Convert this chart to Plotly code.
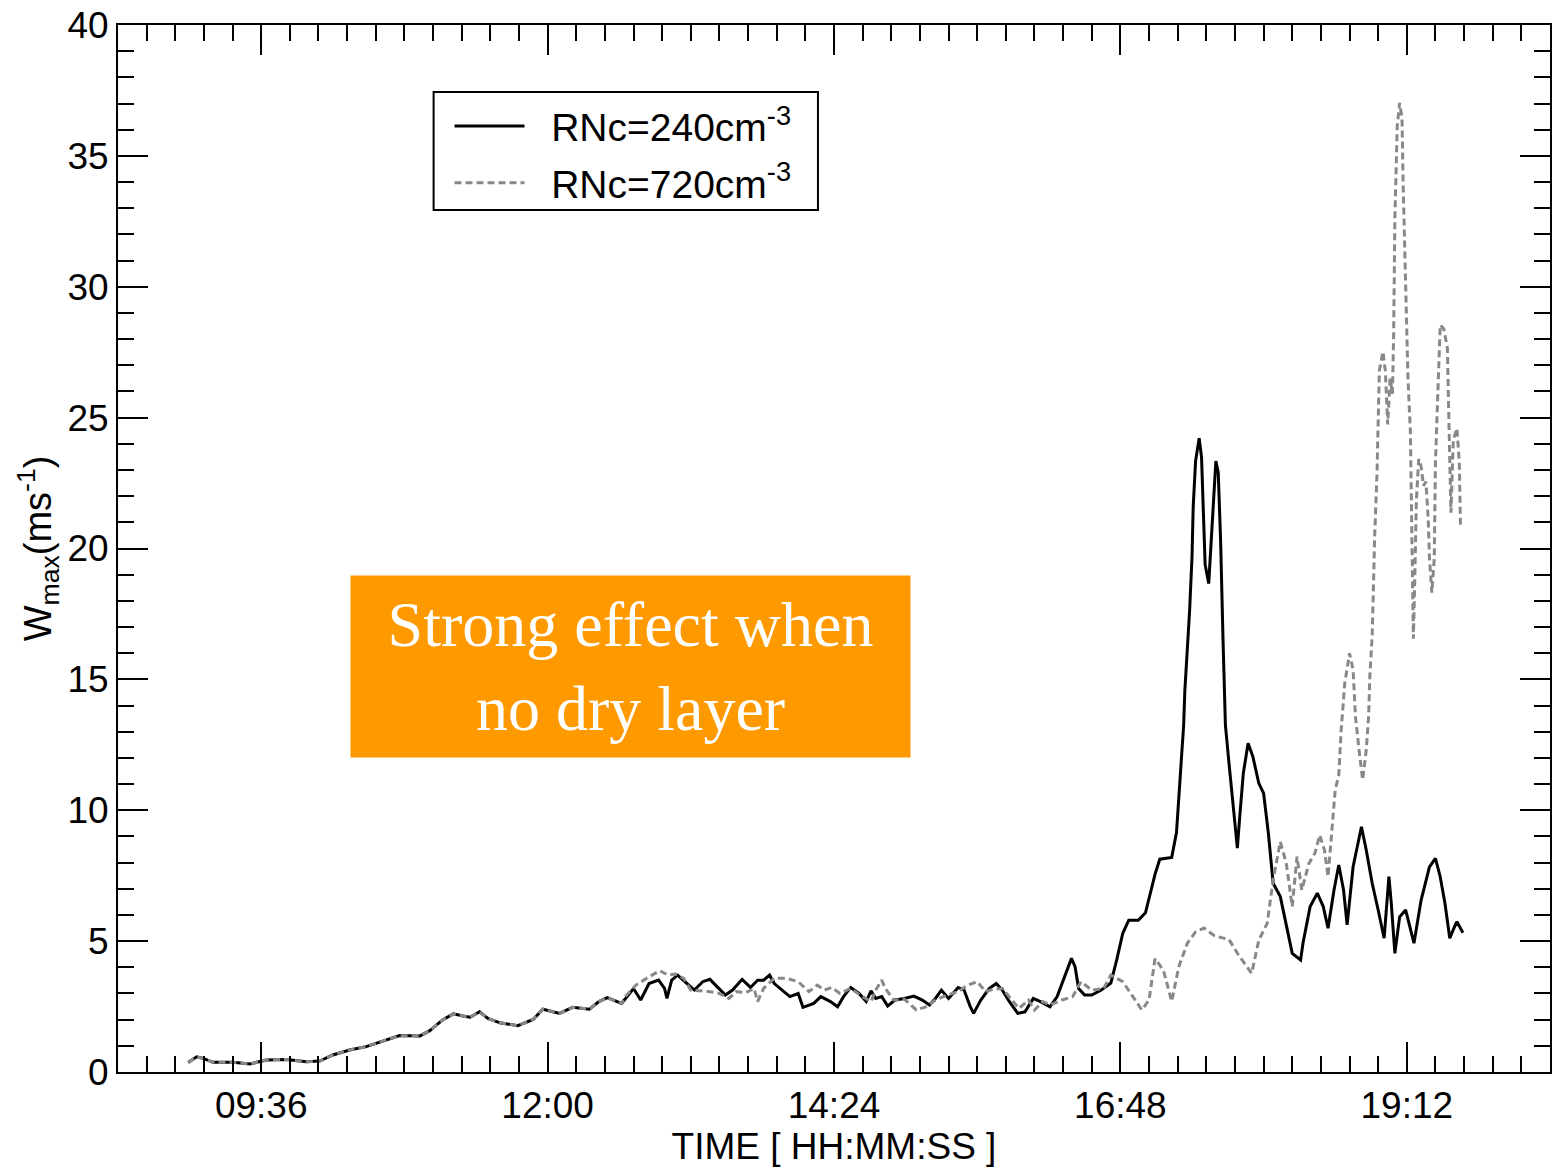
import plotly.graph_objects as go

# ---- data (time in decimal hours, W_max in m/s) ----
common_t = [8.988, 9.059, 9.114, 9.197, 9.365, 9.505, 9.644, 9.812, 9.979, 10.09, 10.20, 10.34,
            10.48, 10.62, 10.76, 10.93, 11.01, 11.12, 11.21, 11.29, 11.35, 11.43, 11.50, 11.60,
            11.75, 11.88, 11.96, 12.10, 12.21, 12.35, 12.43, 12.50, 12.62]
common_w = [0.36, 0.58, 0.52, 0.37, 0.37, 0.31, 0.46, 0.48, 0.39, 0.42, 0.65, 0.84,
            0.97, 1.18, 1.39, 1.38, 1.57, 1.99, 2.22, 2.14, 2.09, 2.30, 2.05, 1.88,
            1.77, 2.01, 2.40, 2.24, 2.47, 2.40, 2.69, 2.84, 2.62]

rnc240_t = [12.72, 12.78, 12.85, 12.93, 12.98, 13.00, 13.04, 13.09, 13.15, 13.23, 13.30, 13.36,
            13.42, 13.49, 13.55, 13.63, 13.70, 13.76, 13.81, 13.86, 13.90, 13.97, 14.03, 14.10,
            14.14, 14.23, 14.29, 14.37, 14.43, 14.48, 14.54, 14.61, 14.67, 14.71, 14.75, 14.80,
            14.85, 14.91, 14.99, 15.07, 15.14, 15.20, 15.25, 15.30, 15.36, 15.44, 15.49, 15.54,
            15.57, 15.63, 15.70, 15.76, 15.81, 15.87, 15.94, 16.00, 16.07, 16.13, 16.21, 16.27,
            16.34, 16.39, 16.42, 16.45, 16.50, 16.56, 16.64, 16.72, 16.77, 16.82, 16.87, 16.95,
            17.01, 17.05, 17.09, 17.13, 17.23, 17.27, 17.29, 17.31, 17.33, 17.34, 17.36, 17.38,
            17.40, 17.41, 17.43, 17.46, 17.48, 17.50, 17.51, 17.54, 17.56, 17.58, 17.60, 17.62,
            17.64, 17.66, 17.68, 17.71, 17.75, 17.78, 17.80, 17.83, 17.87, 17.91, 17.96, 18.00,
            18.04, 18.08, 18.14, 18.19, 18.24, 18.31, 18.33, 18.39, 18.45, 18.50, 18.54, 18.59,
            18.63, 18.67, 18.70, 18.75, 18.82, 18.86, 18.91, 18.96, 19.01, 19.05, 19.07, 19.10,
            19.14, 19.19, 19.26, 19.32, 19.39, 19.44, 19.48, 19.52, 19.56, 19.60, 19.62, 19.67]
rnc240_w = [3.19, 2.75, 3.38, 3.51, 3.19, 2.81, 3.51, 3.70, 3.45, 3.13, 3.45, 3.54,
            3.26, 2.94, 3.13, 3.54, 3.23, 3.51, 3.51, 3.70, 3.38, 3.13, 2.88, 3.00,
            2.47, 2.62, 2.88, 2.69, 2.49, 2.88, 3.23, 3.00, 2.69, 3.10, 2.81, 2.88,
            2.52, 2.75, 2.81, 2.90, 2.75, 2.56, 2.81, 3.13, 2.81, 3.23, 3.13, 2.52,
            2.24, 2.75, 3.19, 3.38, 3.13, 2.69, 2.24, 2.30, 2.81, 2.69, 2.49, 2.88,
            3.70, 4.34, 4.02, 3.19, 2.94, 2.94, 3.13, 3.40, 4.30, 5.30, 5.80, 5.80,
            6.08, 6.81, 7.55, 8.13, 8.20, 9.15, 10.47, 11.93, 13.25, 14.56, 16.02, 17.63,
            19.68, 21.58, 23.34, 24.21, 23.48, 20.99, 19.39, 18.66, 20.12, 21.73, 23.34, 22.90,
            20.26, 16.50, 13.25, 11.80, 10.00, 8.55, 9.75, 11.41, 12.56, 12.05, 11.03, 10.65,
            9.12, 7.21, 6.70, 5.68, 4.53, 4.28, 4.92, 6.32, 6.83, 6.32, 5.49, 6.95,
            7.91, 6.95, 5.62, 7.84, 9.37, 8.48, 7.21, 6.19, 5.11, 7.46, 6.44, 4.53,
            5.93, 6.19, 4.92, 6.57, 7.84, 8.16, 7.46, 6.44, 5.11, 5.55, 5.74, 5.32]

rnc720_t = [12.65, 12.74, 12.83, 12.90, 12.94, 13.01, 13.07, 13.14, 13.20, 13.28, 13.36, 13.44,
            13.52, 13.58, 13.66, 13.73, 13.76, 13.81, 13.90, 14.00, 14.10, 14.19, 14.26, 14.32,
            14.38, 14.45, 14.54, 14.64, 14.71, 14.75, 14.80, 14.83, 14.90, 14.99, 15.09, 15.17,
            15.25, 15.35, 15.44, 15.52, 15.60, 15.67, 15.73, 15.81, 15.87, 15.95, 16.03, 16.08,
            16.15, 16.21, 16.31, 16.40, 16.47, 16.56, 16.66, 16.72, 16.82, 16.92, 16.98, 17.04,
            17.09, 17.16, 17.23, 17.29, 17.36, 17.43, 17.50, 17.59, 17.71, 17.79, 17.90, 17.96,
            18.03, 18.08, 18.14, 18.19, 18.24, 18.28, 18.32, 18.38, 18.43, 18.47, 18.51, 18.54,
            18.57, 18.60, 18.63, 18.65, 18.68, 18.72, 18.75, 18.77, 18.80, 18.83, 18.86, 18.88,
            18.89, 18.91, 18.92, 18.93, 18.95, 18.96, 18.97, 19.00, 19.02, 19.04, 19.06, 19.08,
            19.09, 19.10, 19.12, 19.14, 19.16, 19.17, 19.19, 19.21, 19.23, 19.24, 19.25, 19.255,
            19.265, 19.28, 19.30, 19.32, 19.34, 19.36, 19.38, 19.39, 19.41, 19.43, 19.44, 19.46,
            19.48, 19.51, 19.54, 19.55, 19.56, 19.57, 19.59, 19.62, 19.64, 19.65]
rnc720_w = [2.88, 3.32, 3.58, 3.77, 3.87, 3.70, 3.74, 3.58, 3.13, 3.10, 3.07, 3.00,
            2.81, 3.07, 3.03, 3.19, 2.69, 3.19, 3.58, 3.58, 3.45, 3.07, 3.32, 3.13,
            3.23, 3.00, 3.19, 2.88, 2.69, 3.13, 3.51, 3.19, 2.75, 2.78, 2.37, 2.49,
            2.75, 2.94, 3.07, 3.32, 3.45, 3.07, 3.16, 3.19, 2.88, 2.43, 2.75, 2.37,
            2.69, 2.56, 2.75, 2.88, 3.45, 3.13, 3.19, 3.70, 3.45, 2.75, 2.37, 2.75,
            4.33, 3.89, 2.70, 4.03, 4.91, 5.35, 5.50, 5.20, 5.06, 4.47, 3.77, 5.04,
            5.68, 7.34, 8.80, 7.97, 6.32, 8.23, 6.95, 7.97, 8.36, 9.05, 8.48, 7.46,
            9.25, 10.77, 11.35, 13.07, 14.85, 16.00, 15.36, 13.57, 12.30, 11.16, 12.30, 13.57,
            15.09, 16.70, 18.45, 20.36, 22.84, 25.03, 26.79, 27.52, 26.79, 24.74, 26.49, 25.91,
            28.25, 32.63, 36.15, 37.02, 36.44, 33.80, 30.59, 26.49, 24.45, 21.52, 18.89, 16.55,
            18.45, 21.81, 23.42, 23.13, 22.40, 22.55, 21.09, 19.62, 18.31, 19.62, 23.28, 26.20,
            28.54, 28.39, 27.66, 25.47, 23.28, 21.37, 24.16, 24.59, 23.28, 20.79]

tick_hours = [9.6, 12.0, 14.4, 16.8, 19.2]
tick_labels = ["09:36", "12:00", "14:24", "16:48", "19:12"]

FONT = "Liberation Sans, Arial, sans-serif"
GAP = "\u00a0\u00a0"

fig = go.Figure()
fig.add_trace(go.Scatter(
    x=common_t + rnc240_t, y=common_w + rnc240_w, mode="lines",
    name=GAP + "RNc=240cm<sup>-3</sup>", legendgroup="a",
    line=dict(color="black", width=3)))
fig.add_trace(go.Scatter(
    x=common_t + rnc720_t, y=common_w + rnc720_w, mode="lines",
    name=GAP + "RNc=720cm<sup>-3</sup>", legendgroup="b",
    line=dict(color="#888888", width=3, dash="7px,4px")))

axis_common = dict(
    showgrid=False, zeroline=False, showline=True, linecolor="black", linewidth=2,
    mirror="ticks", ticks="inside", ticklen=30, tickwidth=2, tickcolor="black",
    tickfont=dict(family=FONT, size=37, color="black"),
)

fig.update_xaxes(
    **axis_common, range=[8.4, 20.4], tickmode="array",
    tickvals=tick_hours, ticktext=tick_labels,
    minor=dict(ticks="inside", ticklen=16, tickwidth=2, tickcolor="black", dtick=0.24, tick0=8.4),
    title=dict(text="TIME [ HH:MM:SS ]", font=dict(family=FONT, size=37, color="black"), standoff=0),
)
fig.update_yaxes(
    **axis_common, range=[0, 40], dtick=5, tick0=0,
    minor=dict(ticks="inside", ticklen=16, tickwidth=2, tickcolor="black", dtick=1, tick0=0),
    title=dict(text="W<sub>max</sub>(ms<sup>-1</sup>)", font=dict(family=FONT, size=38, color="black"), standoff=4),
)

# legend frame
fig.add_shape(type="rect", xref="paper", yref="paper",
              x0=0.2204, x1=0.4888, y0=0.8233, y1=0.936,
              line=dict(color="black", width=2), fillcolor="white", layer="below")

fig.add_annotation(
    xref="paper", yref="paper", x=0.358, y=0.3873, xanchor="center", yanchor="middle",
    text="Strong effect when<br>no dry layer", showarrow=False,
    font=dict(family="Liberation Serif, Times New Roman, serif", size=64, color="white"),
    bgcolor="#FF9900", width=559, height=181, borderpad=0, align="center", valign="middle",
)

fig.update_layout(
    width=1556, height=1168,
    margin=dict(l=118, r=4, t=25, b=96),
    plot_bgcolor="white", paper_bgcolor="white",
    legend=dict(
        x=0.2315, y=0.934, xanchor="left", yanchor="top",
        bgcolor="rgba(0,0,0,0)", borderwidth=0,
        font=dict(family=FONT, size=39, color="black"),
        itemwidth=70, tracegroupgap=3,
    ),
)

fig.write_html("out.html")
